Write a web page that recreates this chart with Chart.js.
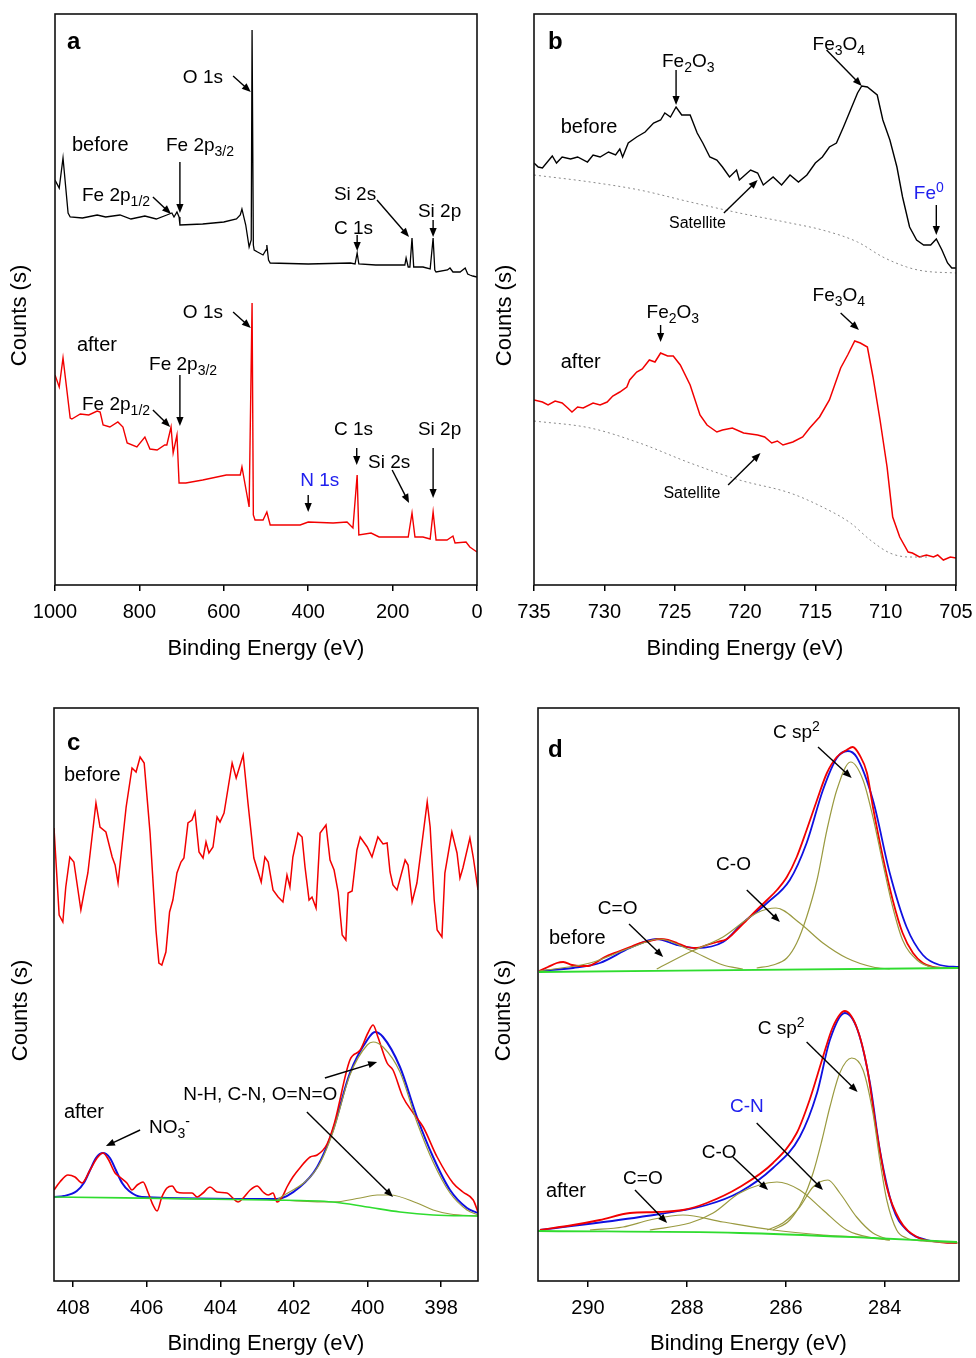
<!DOCTYPE html>
<html>
<head>
<meta charset="utf-8">
<script src="https://cdn.jsdelivr.net/npm/chart.js@4.4.0/dist/chart.umd.min.js"></script>
<style>
  body { margin: 0; background: #fff; overflow: hidden; }
  #fig { position: relative; width: 976px; height: 1358px; overflow: hidden; }
  #fig canvas { position: absolute; }
</style>
</head>
<body>
<div id="fig">
  <canvas id="pa" width="490" height="670" style="left:0;top:0"></canvas>
  <canvas id="pb" width="486" height="670" style="left:490px;top:0"></canvas>
  <canvas id="pc" width="490" height="668" style="left:0;top:690px"></canvas>
  <canvas id="pd" width="486" height="668" style="left:490px;top:690px"></canvas>
</div>
<script>
// ---- panel a: survey spectra ----
const aTicks = [1000, 800, 600, 400, 200, 0];
const aBeforeE = [1000, 990, 981, 969, 964, 935, 900, 880, 846, 820, 787, 760, 735, 723, 718, 711, 706, 704, 650, 600,
  570, 561, 557, 548, 540, 535, 533, 530, 528, 520, 507, 500, 498, 494, 490, 400, 300, 289, 284, 280,
  240, 200, 171, 168, 163, 159, 154, 150, 147, 128, 111, 104, 100, 97, 70, 64, 57, 40, 28, 22, 17, 10, 0];
const aBeforeCnt = [405, 397, 427, 372, 368, 367, 370, 368, 370, 366, 369, 366, 370, 372, 368, 373, 368, 360, 361, 363,
  366, 370, 376, 360, 338, 345, 555, 340, 335, 333, 330, 335, 340, 325, 322, 321, 322, 321, 332, 321,
  320, 320, 320, 327, 318, 318, 347, 318, 318, 318, 316, 347, 315, 313, 315, 317, 313, 313, 317, 311, 310, 309, 308];
const aAfterE = [1000, 990, 981, 964, 960, 940, 920, 900, 893, 886, 870, 851, 839, 829, 806, 787, 775, 758, 740, 735,
  725, 720, 711, 706, 690, 650, 594, 561, 557, 540, 533, 530, 526, 507, 498, 490, 419, 400, 341, 308,
  294, 284, 280, 251, 232, 163, 154, 147, 128, 111, 104, 97, 71, 57, 52, 26, 17, 0];
const aAfterCnt = [210, 198, 227, 167, 166, 171, 170, 174, 173, 160, 158, 163, 158, 142, 138, 148, 136, 135, 140, 140,
  158, 132, 150, 102, 102, 105, 110, 110, 118, 78, 282, 70, 65, 65, 73, 60, 60, 63, 62, 63,
  57, 110, 50, 52, 48, 48, 72, 48, 48, 46, 73, 45, 45, 49, 42, 43, 38, 33];

// ---- panel b: Fe 2p ----
const bTicks = [735, 730, 725, 720, 715, 710, 705];
const bBeforeE = [735.0, 734.7, 734.4, 733.7, 733.4, 733.0, 732.4, 731.9, 731.2, 730.8, 730.3, 729.7, 729.2, 728.9, 728.7, 728.3,
  727.7, 727.1, 726.5, 726.0, 725.7, 725.3, 724.9, 724.5, 723.9, 723.4, 723.0, 722.5, 722.0, 721.6, 721.1, 720.6,
  720.4, 719.6, 719.1, 718.7, 718.0, 717.4, 716.8, 716.2, 715.6, 715.0, 714.5, 714.0, 713.5, 713.0, 712.5, 712.0,
  711.7, 711.3, 710.6, 710.2, 709.7, 709.2, 708.8, 708.3, 707.8, 707.3, 706.8, 706.4, 706.0, 705.6, 705.3, 705.0];
const bBeforeCnt = [422, 418, 417, 429, 422, 428, 426, 428, 423, 430, 428, 433, 430, 436, 428, 442,
  448, 453, 462, 465, 472, 468, 478, 470, 470, 452, 442, 428, 425, 418, 408, 415,
  405, 415, 412, 400, 408, 400, 410, 403, 410, 422, 428, 438, 442, 458, 475, 492,
  499, 498, 490, 465, 445, 418, 388, 358, 345, 340, 340, 346, 335, 322, 317, 317];
const bSatBeforeE = [735, 731.0, 727.5, 723.9, 720.4, 716.8, 714.5, 712.0, 710.2, 708.5, 707.3, 705.0];
const bSatBeforeCnt = [410, 403, 395, 383, 372, 362, 355, 343, 328, 318, 314, 312];
const bAfterE = [735.0, 734.4, 734.0, 733.5, 733.0, 732.6, 732.3, 731.9, 731.5, 730.8, 730.3, 729.8, 729.4, 728.9, 728.4,
  728.2, 727.7, 727.3, 726.8, 726.4, 726.0, 725.5, 725.1, 724.6, 723.9, 723.2, 722.7, 722.0, 721.6, 720.9,
  720.1, 719.1, 718.6, 718.1, 717.7, 717.3, 716.6, 715.9, 715.4, 714.7, 714.0, 713.2, 712.7, 712.2, 711.8,
  711.3, 710.9, 710.4, 709.9, 709.5, 709.0, 708.4, 708.1, 707.6, 707.1, 706.6, 706.3, 705.9, 705.4, 705.0];
const bAfterCnt = [185, 183, 180, 184, 182, 177, 173, 178, 177, 182, 180, 183, 189, 193, 198,
  205, 213, 216, 225, 223, 232, 229, 229, 220, 200, 170, 160, 153, 155, 157,
  152, 150, 148, 142, 144, 140, 143, 148, 157, 168, 185, 217, 230, 244, 242,
  238, 208, 165, 118, 68, 48, 33, 32, 28, 30, 28, 30, 25, 28, 27];
const bSatAfterE = [735, 731.0, 727.5, 723.9, 720.4, 716.8, 714.5, 712.5, 711.1, 709.7, 708.3, 707.0];
const bSatAfterCnt = [164, 157, 142, 122, 105, 92, 78, 62, 45, 32, 28, 28];

// ---- panel c: N 1s ----
const cTicks = [408, 406, 404, 402, 400, 398];
const cBeforeE = [408.52, 408.38, 408.28, 408.20, 408.09, 407.98, 407.79, 407.68, 407.60, 407.38,
  407.27, 407.11, 406.94, 406.86, 406.78, 406.56, 406.40, 406.29, 406.18, 406.07,
  405.91, 405.75, 405.67, 405.59, 405.48, 405.38, 405.29, 405.18, 405.07, 404.99,
  404.88, 404.77, 404.69, 404.58, 404.47, 404.39, 404.31, 404.20, 404.09, 404.01,
  403.90, 403.68, 403.57, 403.38, 403.25, 403.09, 402.89, 402.79, 402.70, 402.57,
  402.43, 402.30, 402.19, 402.11, 402.03, 401.89, 401.78, 401.70, 401.59, 401.51,
  401.40, 401.29, 401.13, 401.02, 400.91, 400.80, 400.69, 400.59, 400.53, 400.42,
  400.29, 400.20, 400.01, 399.88, 399.72, 399.58, 399.47, 399.39, 399.31, 399.20,
  398.98, 398.90, 398.79, 398.66, 398.38, 398.30, 398.19, 398.11, 397.98, 397.90,
  397.71, 397.57, 397.49, 397.41, 397.22, 397.13, 397.00];
const cBeforeCnt = [453, 366, 359, 394, 424, 419, 371, 393, 408, 478,
  454, 449, 424, 416, 398, 474, 513, 509, 524, 518,
  448, 351, 318, 316, 329, 369, 381, 408, 419, 423,
  458, 461, 469, 429, 423, 439, 428, 434, 464, 459,
  468, 518, 503, 526, 478, 423, 399, 424, 419, 391,
  384, 379, 406, 394, 424, 448, 444, 414, 381, 384,
  373, 448, 456, 421, 411, 389, 346, 341, 388, 390,
  431, 444, 434, 424, 444, 437, 438, 409, 396, 391,
  421, 416, 379, 398, 479, 454, 381, 351, 344, 408,
  449, 428, 403, 413, 443, 424, 391];
const cAfterE = [408.52, 408.36, 408.14, 407.95, 407.76, 407.54, 407.35, 407.19, 407.05, 406.86,
  406.73, 406.54, 406.40, 406.26, 406.10, 405.97, 405.83, 405.72, 405.59, 405.45,
  405.31, 405.18, 405.01, 404.77, 404.63, 404.47, 404.28, 404.09, 403.82, 403.66,
  403.52, 403.38, 403.19, 403.00, 402.84, 402.70, 402.57, 402.46, 402.32, 402.19,
  402.03, 401.84, 401.56, 401.37, 401.10, 400.90, 400.48, 400.20, 399.99, 399.85,
  399.72, 399.47, 399.31, 399.04, 398.76, 398.49, 398.11, 397.68, 397.41, 397.13, 397.00];
const cAfterCnt = [91, 99, 106, 104, 98, 111, 123, 128, 122, 108,
  104, 98, 91, 96, 99, 89, 76, 70, 84, 93,
  95, 89, 88, 88, 84, 88, 94, 89, 88, 83,
  79, 83, 91, 95, 89, 86, 88, 79, 84, 94,
  104, 113, 124, 126, 137, 158, 221, 231, 248, 256,
  244, 218, 211, 184, 168, 154, 124, 98, 89, 81, 69];
const cFitE = [408.52, 408.25, 407.90, 407.71, 407.54, 407.38, 407.19, 407.00, 406.84, 406.67, 406.48, 406.13,
  402.46, 401.84, 401.37, 400.94, 400.48, 400.01, 399.80, 399.58, 399.12, 398.66, 398.22, 397.76, 397.30, 397.00];
const cFitCnt = [84, 85, 90, 98, 111, 123, 128, 123, 111, 98, 90, 84,
  82, 94, 114, 151, 208, 241, 249, 244, 214, 164, 124, 91, 73, 68];
const cMainE = [402.46, 401.37, 400.94, 400.48, 400.01, 399.85, 399.58, 399.12, 398.66, 398.22, 397.76, 397.30, 397.00];
const cMainCnt = [81, 113, 149, 206, 236, 239, 234, 209, 159, 119, 88, 71, 66];
const cMinorE = [402.46, 400.94, 400.20, 399.74, 399.39, 398.66, 398.22, 397.76, 397.00];
const cMinorCnt = [81, 79, 83, 86, 86, 78, 71, 67, 65];
const cBaseE = [408.52, 402.73, 400.94, 400.01, 399.12, 398.22, 397.00];
const cBaseCnt = [84, 81, 79, 74, 69, 66, 65];

// ---- panel d: C 1s ----
const dTicks = [290, 288, 286, 284];
const dBeforeE = [290.99, 290.81, 290.63, 290.50, 290.32, 290.16, 290.00, 289.82, 289.66, 289.41, 289.15, 288.95, 288.75,
  288.55, 288.38, 288.20, 288.00, 287.80, 287.60, 287.39, 287.19, 286.99, 286.79, 286.59, 286.38, 286.18, 285.98,
  285.78, 285.58, 285.37, 285.17, 284.97, 284.77, 284.65, 284.51, 284.36, 284.24, 284.04, 283.84, 283.64, 283.43,
  283.23, 283.03, 282.75, 282.50];
const dBeforeCnt = [310, 314, 318, 319, 316, 315, 315, 319, 324, 329, 334, 338, 340,
  342, 341, 338, 334, 333, 336, 339, 342, 351, 361, 371, 381, 391, 404,
  424, 451, 481, 508, 524, 531, 534, 526, 508, 474, 424, 381, 348, 328,
  318, 314, 313, 313];
const dBeforeFitE = [290.99, 290.30, 289.76, 289.15, 288.61, 288.20, 287.80, 287.27, 286.87, 286.38, 285.92,
  285.58, 285.25, 284.97, 284.75, 284.57, 284.24, 283.90, 283.56, 283.23, 282.89, 282.50];
const dBeforeFitCnt = [310, 313, 318, 333, 342, 336, 333, 339, 358, 378, 401,
  438, 491, 523, 530, 524, 481, 408, 354, 326, 316, 314];
const dBeforeSp2E = [286.59, 286.26, 285.98, 285.78, 285.58, 285.37, 285.17, 284.97, 284.69, 284.44, 284.24,
  284.04, 283.84, 283.64, 283.35, 283.03, 282.54];
const dBeforeSp2Cnt = [313, 316, 323, 338, 364, 401, 451, 491, 519, 501, 464, 418, 374, 341, 321, 314, 313];
const dBeforeCOE = [288.61, 287.94, 287.27, 286.59, 286.20, 285.72, 285.25, 284.77, 284.24, 283.90];
const dBeforeCOCnt = [312, 329, 344, 368, 373, 358, 338, 323, 314, 312];
const dBeforeCdOE = [290.99, 289.96, 289.15, 288.55, 287.94, 287.27, 286.87];
const dBeforeCdOCnt = [310, 318, 333, 342, 331, 316, 312];
const dBeforeBaseE = [290.99, 282.50];
const dBeforeBaseCnt = [309, 313];

const dAfterE = [290.97, 290.30, 289.76, 289.15, 288.61, 288.08, 287.60, 286.93, 286.26, 285.78, 285.52,
  285.25, 285.05, 284.81, 284.57, 284.36, 284.16, 283.96, 283.70, 283.35, 282.89, 282.54];
const dAfterCnt = [51, 56, 61, 68, 69, 71, 78, 94, 118, 148, 181, 224, 254, 270, 254, 214, 148, 94, 61, 44, 39, 38];
const dAfterFitE = [290.97, 288.95, 287.60, 286.93, 286.26, 285.72, 285.37, 285.11, 284.81, 284.55, 284.30,
  284.10, 283.84, 283.56, 283.15, 282.54];
const dAfterFitCnt = [51, 64, 76, 89, 113, 144, 188, 241, 268, 251, 198, 131, 74, 51, 41, 38];
const dAfterSp2E = [286.26, 285.92, 285.66, 285.45, 285.27, 285.11, 284.91, 284.67, 284.44, 284.24, 284.10,
  283.96, 283.76, 283.56, 283.23, 282.50];
const dAfterSp2Cnt = [51, 61, 81, 108, 141, 174, 208, 223, 211, 168, 121, 81, 51, 43, 40, 38];
const dAfterCNE = [286.38, 286.06, 285.72, 285.45, 285.15, 284.91, 284.57, 284.24, 283.90];
const dAfterCNCnt = [51, 58, 74, 94, 101, 88, 64, 48, 41];
const dAfterCOE = [288.75, 287.94, 287.47, 286.93, 286.18, 285.72, 285.25, 284.77, 284.24, 283.90];
const dAfterCOCnt = [51, 58, 68, 88, 99, 91, 71, 51, 43, 41];
const dAfterCdOE = [289.96, 289.29, 288.75, 288.08, 287.27, 286.26, 285.25, 284.24, 283.90];
const dAfterCdOCnt = [51, 54, 61, 66, 59, 51, 46, 43, 41];
const dAfterBaseE = [291.01, 286.93, 284.24, 282.54];
const dAfterBaseCnt = [50, 48, 43, 39];

const FONT = '"Liberation Sans", Arial, Helvetica, sans-serif';
const RED = '#f20000', BLUE = '#1010e0', OLIVE = '#9a9a40', GREEN = '#2fdc2f', TXTBLUE = '#2020ee';
Chart.defaults.font.family = FONT;
Chart.defaults.color = '#000';

function pts(xs, ys) {
  return xs.map((x, i) => ({ x: x, y: ys[i] }));
}

function line(xs, ys, color, width, smooth, dash) {
  return {
    data: pts(xs, ys),
    borderColor: color,
    borderWidth: width,
    pointRadius: 0,
    fill: false,
    tension: 0,
    cubicInterpolationMode: smooth ? 'monotone' : 'default',
    borderDash: dash || []
  };
}

// text with _{sub} and ^{sup} parts, left aligned, vertically centred
function rich(ctx, str, x, y, size, color, bold) {
  const re = /([_^])\{([^}]*)\}|([^_^]+)/g;
  let m;
  ctx.fillStyle = color;
  ctx.textAlign = 'left';
  ctx.textBaseline = 'middle';
  while ((m = re.exec(str))) {
    const shift = m[3] ? 0 : (m[1] === '_' ? 1 : -1);
    const t = m[3] || m[2];
    const fs = shift ? Math.round(size * 0.72) : size;
    ctx.font = (bold ? 'bold ' : '') + fs + 'px ' + FONT;
    ctx.fillText(t, x, y + shift * size * 0.32);
    x += ctx.measureText(t).width;
  }
}

function arrow(ctx, x1, y1, x2, y2) {
  const a = Math.atan2(y2 - y1, x2 - x1), h = 9, w = 3.6;
  const c = Math.cos(a), s = Math.sin(a);
  ctx.beginPath();
  ctx.moveTo(x1, y1);
  ctx.lineTo(x2 - h * 0.7 * c, y2 - h * 0.7 * s);
  ctx.stroke();
  ctx.beginPath();
  ctx.moveTo(x2, y2);
  ctx.lineTo(x2 - h * c + w * s, y2 - h * s - w * c);
  ctx.lineTo(x2 - h * c - w * s, y2 - h * s + w * c);
  ctx.closePath();
  ctx.fill();
}

function makePanel(id, p) {
  const deco = {
    id: 'deco',
    afterDatasetsDraw(chart) {
      const ctx = chart.ctx, a = chart.chartArea, sx = chart.scales.x, sy = chart.scales.y;
      ctx.save();
      ctx.strokeStyle = '#111';
      ctx.lineWidth = 1.6;
      ctx.strokeRect(a.left, a.top, a.right - a.left, a.bottom - a.top);
      ctx.lineWidth = 1.4;
      ctx.strokeStyle = '#000';
      ctx.fillStyle = '#000';
      p.arrows.forEach(r => arrow(ctx, sx.getPixelForValue(r[0]), sy.getPixelForValue(r[1]),
        sx.getPixelForValue(r[2]), sy.getPixelForValue(r[3])));
      p.labels.forEach(l => rich(ctx, l.t, sx.getPixelForValue(l.x), sy.getPixelForValue(l.y),
        l.s || 19, l.c || '#000', l.b));
      ctx.font = '22px ' + FONT;
      ctx.fillStyle = '#000';
      ctx.textAlign = 'center';
      ctx.textBaseline = 'middle';
      ctx.fillText('Binding Energy (eV)', (a.left + a.right) / 2, p.xTitleY);
      ctx.translate(p.yTitleX, (a.top + a.bottom) / 2 + 16);
      ctx.rotate(-Math.PI / 2);
      ctx.fillText('Counts (s)', 0, 0);
      ctx.restore();
    }
  };

  new Chart(document.getElementById(id), {
    type: 'line',
    data: { datasets: p.datasets },
    options: {
      responsive: false,
      animation: false,
      events: [],
      layout: { padding: { left: p.pad[0], right: p.pad[1], top: p.pad[2], bottom: 0 } },
      plugins: { legend: { display: false }, tooltip: { enabled: false } },
      scales: {
        x: {
          type: 'linear',
          reverse: true,
          min: p.xMin,
          max: p.xMax,
          afterBuildTicks: s => { s.ticks = p.ticks.map(v => ({ value: v })); },
          afterFit: s => { s.height = p.xh; s.paddingLeft = 0; s.paddingRight = 0; },
          ticks: {
            font: { size: 20 },
            color: '#000',
            padding: 9,
            maxRotation: 0,
            autoSkip: false,
            callback: v => String(v)
          },
          grid: { display: true, drawOnChartArea: false, drawTicks: true, tickLength: 6, color: '#000', lineWidth: 1.5 },
          border: { display: false }
        },
        y: { display: false, min: 0, max: p.yMax }
      }
    },
    plugins: [deco]
  });
}

makePanel('pa', {
  xMin: 0, xMax: 1000, yMax: 571, ticks: aTicks, pad: [55, 13, 14], xh: 85, xTitleY: 649, yTitleX: 20,
  datasets: [
    line(aBeforeE, aBeforeCnt, '#000', 1.3),
    line(aAfterE, aAfterCnt, RED, 1.4)
  ],
  labels: [
    { t: 'a', x: 971.6, y: 543, b: true, s: 24 },
    { t: 'O 1s', x: 697, y: 507 },
    { t: 'before', x: 960, y: 440, s: 20 },
    { t: 'Fe 2p_{3/2}', x: 737, y: 439 },
    { t: 'Fe 2p_{1/2}', x: 936, y: 389 },
    { t: 'Si 2s', x: 339, y: 390 },
    { t: 'C 1s', x: 339, y: 356 },
    { t: 'Si 2p', x: 140, y: 373 },
    { t: 'O 1s', x: 697, y: 272 },
    { t: 'after', x: 948, y: 240, s: 20 },
    { t: 'Fe 2p_{3/2}', x: 777, y: 220 },
    { t: 'Fe 2p_{1/2}', x: 936, y: 180 },
    { t: 'C 1s', x: 339, y: 155 },
    { t: 'Si 2p', x: 140, y: 155 },
    { t: 'Si 2s', x: 258, y: 122 },
    { t: 'N 1s', x: 419, y: 104, c: TXTBLUE }
  ],
  arrows: [
    [578, 509, 536, 493], [704, 423, 704, 372], [768, 388, 725, 371], [237, 385, 161, 348],
    [284, 350, 284, 334], [104, 365, 104, 348],
    [578, 273, 536, 257], [704, 210, 704, 159], [768, 175, 727, 158], [285, 137, 285, 120],
    [104, 137, 104, 87], [201, 115, 161, 82], [400, 90, 400, 73]
  ]
});

makePanel('pb', {
  xMin: 705, xMax: 735, yMax: 571, ticks: bTicks, pad: [44, 20, 14], xh: 85, xTitleY: 649, yTitleX: 15,
  datasets: [
    line(bSatBeforeE, bSatBeforeCnt, '#8a8a8a', 1, true, [2, 3]),
    line(bSatAfterE, bSatAfterCnt, '#8a8a8a', 1, true, [2, 3]),
    line(bBeforeE, bBeforeCnt, '#000', 1.4),
    line(bAfterE, bAfterCnt, RED, 1.5)
  ],
  labels: [
    { t: 'b', x: 734.0, y: 543, b: true, s: 24 },
    { t: 'Fe_{2}O_{3}', x: 725.9, y: 523 },
    { t: 'Fe_{3}O_{4}', x: 715.2, y: 540 },
    { t: 'before', x: 733.1, y: 458, s: 20 },
    { t: 'Satellite', x: 725.4, y: 361, s: 16 },
    { t: 'Fe^{0}', x: 708.0, y: 391, c: TXTBLUE },
    { t: 'Fe_{3}O_{4}', x: 715.2, y: 289 },
    { t: 'Fe_{2}O_{3}', x: 727.0, y: 272 },
    { t: 'after', x: 733.1, y: 223, s: 20 },
    { t: 'Satellite', x: 725.8, y: 91, s: 16 }
  ],
  arrows: [
    [724.9, 515, 724.9, 480], [714.2, 535, 711.7, 499], [721.5, 372, 719.1, 405], [706.4, 380, 706.4, 350],
    [713.2, 272, 711.9, 255], [726.0, 260, 726.0, 243], [721.2, 100, 718.9, 132]
  ]
});

makePanel('pc', {
  xMin: 397, xMax: 408.52, yMax: 573, ticks: cTicks, pad: [54, 12, 18], xh: 77, xTitleY: 654, yTitleX: 21,
  datasets: [
    line(cBaseE, cBaseCnt, GREEN, 1.6, true),
    line(cMinorE, cMinorCnt, OLIVE, 1.2, true),
    line(cMainE, cMainCnt, OLIVE, 1.2, true),
    line(cBeforeE, cBeforeCnt, RED, 1.5),
    line(cAfterE, cAfterCnt, RED, 1.6, true),
    line(cFitE, cFitCnt, BLUE, 2, true)
  ],
  labels: [
    { t: 'c', x: 408.17, y: 538, b: true, s: 24 },
    { t: 'before', x: 408.25, y: 506, s: 20 },
    { t: 'after', x: 408.25, y: 169, s: 20 },
    { t: 'NO_{3}^{-}', x: 405.94, y: 153 },
    { t: 'N-H, C-N, O=N=O', x: 405.01, y: 186 }
  ],
  arrows: [
    [406.18, 151, 407.11, 135], [401.16, 203, 399.74, 219], [401.65, 169, 399.31, 84]
  ]
});

makePanel('pd', {
  xMin: 282.5, xMax: 291.01, yMax: 573, ticks: dTicks, pad: [48, 17, 18], xh: 77, xTitleY: 654, yTitleX: 14,
  datasets: [
    line(dBeforeBaseE, dBeforeBaseCnt, GREEN, 1.8, true),
    line(dAfterBaseE, dAfterBaseCnt, GREEN, 1.8, true),
    line(dBeforeSp2E, dBeforeSp2Cnt, OLIVE, 1.2, true),
    line(dBeforeCOE, dBeforeCOCnt, OLIVE, 1.2, true),
    line(dBeforeCdOE, dBeforeCdOCnt, OLIVE, 1.2, true),
    line(dAfterSp2E, dAfterSp2Cnt, OLIVE, 1.2, true),
    line(dAfterCNE, dAfterCNCnt, OLIVE, 1.2, true),
    line(dAfterCOE, dAfterCOCnt, OLIVE, 1.2, true),
    line(dAfterCdOE, dAfterCdOCnt, OLIVE, 1.2, true),
    line(dBeforeE, dBeforeCnt, RED, 1.8, true),
    line(dAfterE, dAfterCnt, RED, 1.8, true),
    line(dBeforeFitE, dBeforeFitCnt, BLUE, 1.8, true),
    line(dAfterFitE, dAfterFitCnt, BLUE, 1.8, true)
  ],
  labels: [
    { t: 'd', x: 290.81, y: 531, b: true, s: 24 },
    { t: 'C sp^{2}', x: 286.26, y: 548 },
    { t: 'C-O', x: 287.41, y: 416 },
    { t: 'C=O', x: 289.80, y: 372 },
    { t: 'before', x: 290.79, y: 343, s: 20 },
    { t: 'C sp^{2}', x: 286.57, y: 252 },
    { t: 'C-N', x: 287.13, y: 174, c: TXTBLUE },
    { t: 'C-O', x: 287.70, y: 128 },
    { t: 'C=O', x: 289.29, y: 102 },
    { t: 'after', x: 290.85, y: 90, s: 20 }
  ],
  arrows: [
    [285.35, 534, 284.67, 503], [286.79, 391, 286.12, 359], [289.17, 357, 288.48, 324],
    [285.58, 239, 284.55, 189], [286.59, 158, 285.25, 91], [287.07, 124, 286.36, 91], [289.05, 91, 288.40, 58]
  ]
});
</script>
</body>
</html>
